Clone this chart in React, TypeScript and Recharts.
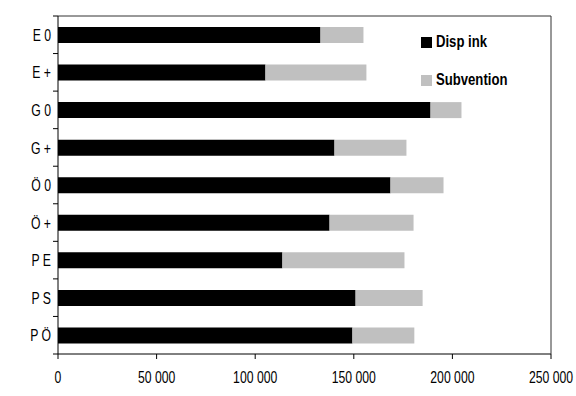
import React from "react";
import { Bar, BarChart, Legend, XAxis, YAxis } from "recharts";

const categories = ["E 0", "E +", "G 0", "G +", "Ö 0", "Ö +", "P E", "P S", "P Ö"];
const dispInk = [133100, 105200, 188900, 140200, 168600, 137700, 113800, 150900, 149300];
const subvention = [21800, 51200, 15700, 36500, 26900, 42600, 61900, 34000, 31400];
const xTicks = [0, 50000, 100000, 150000, 200000, 250000];

const data = categories.map((name, i) => ({
  name,
  disp: dispInk[i],
  sub: subvention[i],
}));

// no Arial Narrow in the sandbox: squeeze Liberation Sans instead
const FONT = "'Liberation Sans', Arial, sans-serif";
const NARROW = 0.72;
const W = 576;
const H = 396;
const MARGIN = { top: 15, right: 24, bottom: 12, left: 0 };
const X_AXIS_H = 30;
const PLOT_H = H - MARGIN.top - 1 - MARGIN.bottom - X_AXIS_H;
const BAND = PLOT_H / categories.length;
const TICK_GAP = 7;

const fmt = (v: number) => String(v).replace(/\B(?=(\d{3})+(?!\d))/g, " ");

function CategoryTick(props: any) {
  const { x, y, payload, index } = props;
  const axisX = x + TICK_GAP;
  return (
    <g>
      <text
        transform={`translate(${x},${y}) scale(${NARROW},1)`}
        dy="0.36em"
        textAnchor="end"
        fontFamily={FONT}
        fontSize={17}
        fill="#000"
      >
        {payload.value}
      </text>
      {index === 0 && (
        <line x1={axisX - 5} x2={axisX} y1={y - BAND / 2} y2={y - BAND / 2} stroke="#000" />
      )}
      <line x1={axisX - 5} x2={axisX} y1={y + BAND / 2} y2={y + BAND / 2} stroke="#000" />
    </g>
  );
}

function ValueTick(props: any) {
  const { x, y, payload } = props;
  return (
    <text
      transform={`translate(${x},${y}) scale(${NARROW},1)`}
      dy="0.71em"
      textAnchor="middle"
      fontFamily={FONT}
      fontSize={17}
      fill="#000"
    >
      {fmt(payload.value)}
    </text>
  );
}

function LegendBox() {
  const items = [
    { label: "Disp ink", color: "#000000" },
    { label: "Subvention", color: "#c0c0c0" },
  ];
  return (
    <div>
      {items.map((it) => (
        <div
          key={it.label}
          style={{ display: "flex", alignItems: "center", height: 22, marginBottom: 16 }}
        >
          <span style={{ width: 11, height: 11, background: it.color, marginRight: 4 }} />
          <span
            style={{
              display: "inline-block",
              fontFamily: FONT,
              fontWeight: "bold",
              fontSize: 16,
              color: "#000",
              transform: "scaleX(0.82)",
              transformOrigin: "left center",
              whiteSpace: "nowrap",
            }}
          >
            {it.label}
          </span>
        </div>
      ))}
    </div>
  );
}

export default function App() {
  return (
    <div
      style={{
        position: "fixed",
        left: 0,
        top: 0,
        width: W,
        height: H,
        background: "#fff",
        overflow: "hidden",
      }}
    >
      <span
        style={{
          position: "absolute",
          left: 32,
          top: -11,
          fontFamily: FONT,
          fontStyle: "italic",
          fontSize: 13,
          lineHeight: "13px",
          color: "#000",
          transform: "scaleX(0.82)",
          transformOrigin: "left center",
          whiteSpace: "nowrap",
        }}
      >
        Kronor/hushåll
      </span>
      <BarChart width={W} height={H} data={data} layout="vertical" margin={MARGIN} barSize={16}>
        <XAxis
          type="number"
          domain={[0, 250000]}
          ticks={xTicks}
          interval={0}
          height={X_AXIS_H}
          tickSize={5}
          tickMargin={12}
          tick={<ValueTick />}
          axisLine={{ stroke: "#000" }}
          tickLine={{ stroke: "#000" }}
        />
        <XAxis
          xAxisId="top"
          orientation="top"
          type="number"
          domain={[0, 250000]}
          height={1}
          tick={false}
          tickLine={false}
          axisLine={{ stroke: "#333" }}
        />
        <YAxis
          type="category"
          dataKey="name"
          width={58}
          interval={0}
          tickLine={false}
          tickSize={0}
          tickMargin={TICK_GAP}
          tick={<CategoryTick />}
          axisLine={{ stroke: "#000" }}
        />
        <YAxis
          yAxisId="right"
          orientation="right"
          type="category"
          dataKey="name"
          width={1}
          tick={false}
          tickLine={false}
          axisLine={{ stroke: "#333" }}
        />
        <Legend
          layout="vertical"
          align="center"
          verticalAlign="middle"
          wrapperStyle={{ left: 421, top: 31, width: 120 }}
          content={<LegendBox />}
        />
        <Bar dataKey="disp" name="Disp ink" stackId="a" fill="#000000" isAnimationActive={false} />
        <Bar dataKey="sub" name="Subvention" stackId="a" fill="#c0c0c0" isAnimationActive={false} />
      </BarChart>
    </div>
  );
}
